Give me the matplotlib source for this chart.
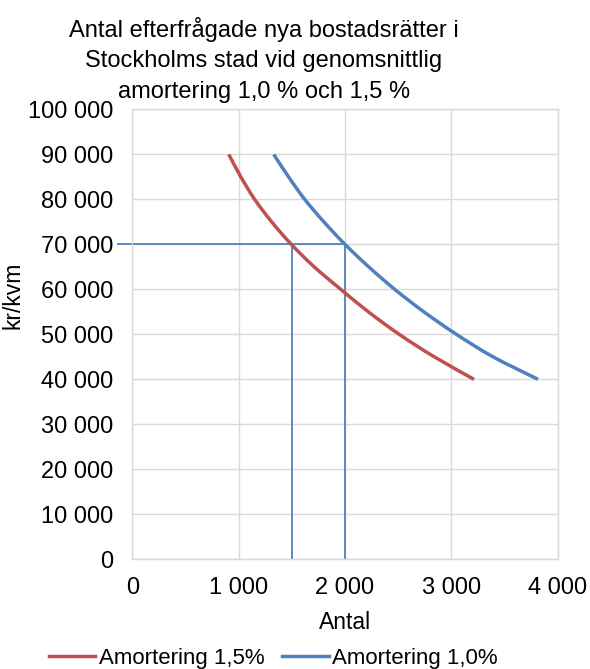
import matplotlib
matplotlib.use("Agg")
import matplotlib.pyplot as plt
from matplotlib.path import Path
from matplotlib.patches import PathPatch
from matplotlib.lines import Line2D
from matplotlib.ticker import FuncFormatter

plt.rcParams['font.family'] = ['Liberation Sans', 'DejaVu Sans']

# priser (kr/kvm) och efterfrågat antal
pris = [90000, 85000, 80000, 75000, 70000, 65000, 60000, 55000, 50000, 45000, 40000]
antal_15 = [906, 1020, 1150, 1310, 1495, 1710, 1960, 2220, 2510, 2840, 3214]
antal_10 = [1329, 1469, 1621, 1801, 2000, 2223, 2468, 2742, 3048, 3393, 3816]

# hjälplinjer vid 70 000 kr/kvm
ref_h_x = [-135, 2000]
ref_h_y = [70000, 70000]
ref_v1_x = [1500, 1500]
ref_v1_y = [70000, 0]
ref_v2_x = [2000, 2000]
ref_v2_y = [70000, 0]

RED = '#C0504D'
BLUE = '#4F81BD'
GRID = '#D9D9D9'


def smooth_path(xs, ys):
    # Excel-liknande utjämnad linje: bezier-kontrollpunkter enligt Catmull-Rom
    pts = list(zip(xs, ys))
    verts = [pts[0]]
    codes = [Path.MOVETO]
    n = len(pts)
    for i in range(n - 1):
        p0 = pts[i - 1] if i > 0 else pts[i]
        p1, p2 = pts[i], pts[i + 1]
        p3 = pts[i + 2] if i + 2 < n else pts[i + 1]
        c1 = (p1[0] + (p2[0] - p0[0]) / 6, p1[1] + (p2[1] - p0[1]) / 6)
        c2 = (p2[0] - (p3[0] - p1[0]) / 6, p2[1] - (p3[1] - p1[1]) / 6)
        verts += [c1, c2, p2]
        codes += [Path.CURVE4] * 3
    return Path(verts, codes)


fig = plt.figure(figsize=(5.9, 6.69), dpi=100)
ax = fig.add_axes([0.2245, 0.164, 0.7205, 0.6725])

for xs, col in [(antal_15, RED), (antal_10, BLUE)]:
    ax.add_patch(PathPatch(smooth_path(xs, pris), facecolor='none', edgecolor=col,
                           lw=2.5, capstyle='butt', zorder=3))
ax.plot(ref_h_x, ref_h_y, color=BLUE, lw=1.3, clip_on=False, zorder=2)
ax.plot(ref_v1_x, ref_v1_y, color=BLUE, lw=1.3, zorder=2)
ax.plot(ref_v2_x, ref_v2_y, color=BLUE, lw=1.3, zorder=2)

ax.set_xlim(0, 4000)
ax.set_ylim(0, 100000)
ax.set_xticks(range(0, 4001, 1000))
ax.set_yticks(range(0, 100001, 10000))
fmt = FuncFormatter(lambda v, p: f'{int(v):,}'.replace(',', ' '))
ax.xaxis.set_major_formatter(fmt)
ax.yaxis.set_major_formatter(fmt)
ax.tick_params(length=0, labelsize=17)
ax.tick_params(axis='y', pad=14)
ax.tick_params(axis='x', pad=13)
ax.grid(True, color=GRID, lw=1.0)
ax.set_axisbelow(True)
for s in ax.spines.values():
    s.set_color(GRID)
    s.set_linewidth(1.0)

fig.text(0.585, 0.07, 'Antal', ha='center', va='center', fontsize=16.5)
fig.text(0.022, 0.559, 'kr/kvm', ha='center', va='center', rotation=90, fontsize=16.5)
fig.text(0.447, 0.911,
         'Antal efterfrågade nya bostadsrätter i\nStockholms stad vid genomsnittlig\namortering 1,0 % och 1,5 %',
         ha='center', va='center', fontsize=17, linespacing=1.5)

handles = [Line2D([], [], color=RED, lw=2.5), Line2D([], [], color=BLUE, lw=2.5)]
fig.legend(handles, ['Amortering 1,5%', 'Amortering 1,0%'], loc='center',
           bbox_to_anchor=(0.463, 0.016), ncol=2, frameon=False,
           fontsize=16, handlelength=2.1, handletextpad=0.15, columnspacing=0.8)

fig.savefig('out.png', dpi=100)
